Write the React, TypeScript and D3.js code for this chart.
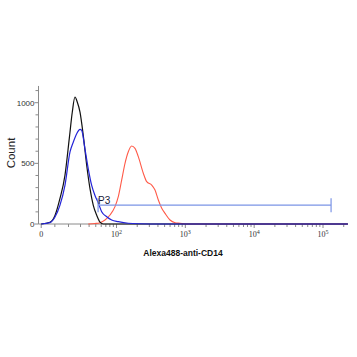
import React from "react";
import * as d3 from "d3";

// Fluorescence values (Alexa488) and counts
const blackValues = [0, 6.4, 10.1, 13.7, 17.4, 20.6, 22.8, 24.9, 26.9, 29.5, 32.9, 36.9, 41.2, 46.0, 51.6, 57.6, 64.3, 230000];
const blackCounts = [0, 14, 71, 209, 401, 708, 923, 1047, 1006, 923, 731, 484, 291, 154, 72, 16, 0, 0];

const blueValues = [0, 6.4, 10.1, 13.7, 17.4, 21.1, 23.6, 26.4, 29.5, 31.2, 34.8, 38.9, 43.6, 48.7, 54.4, 60.9, 72.1, 85.1, 106.2, 148.4, 220, 429, 230000];
const blueCounts = [0, 11, 58, 154, 319, 594, 676, 744, 780, 771, 620, 455, 318, 235, 173, 101, 60, 33, 19, 6, 2, 0, 0];

const redValues = [38.9, 48.7, 57.6, 68.1, 80.4, 95.1, 106.2, 119.0, 132.9, 148.4, 166.3, 185.7, 207.5, 245.2, 274.8, 324.8, 362.7, 405.2, 454, 507, 599, 709, 838, 1000, 230000];
const redCounts = [0, 4, 11, 33, 74, 143, 225, 363, 500, 596, 643, 624, 555, 418, 349, 321, 280, 198, 130, 88, 33, 11, 6, 0, 0];

const gateName = "P3";
const gateRange = [54, 131000];
const gateLevel = 155;

const xMajorTicks = [0, 100, 1000, 10000, 100000];
const xMajorLabels = ["0", "10|2", "10|3", "10|4", "10|5"];
const xMinorTicks = [10, 20, 30, 40, 50, 60, 70, 80, 90,
  200, 300, 400, 500, 600, 700, 800, 900,
  2000, 3000, 4000, 5000, 6000, 7000, 8000, 9000,
  20000, 30000, 40000, 50000, 60000, 70000, 80000, 90000, 200000];
const yMajorTicks = [0, 500, 1000];
const yMinorTicks = [100, 200, 300, 400, 600, 700, 800, 900, 1100];

const xTitle = "Alexa488-anti-CD14";
const yTitle = "Count";

const X_MAX = 230000;
const Y_TOP = 1138;

// biexponential-like transform: linear near zero, log above threshold
const T = 21.9;
const tf = (v: number) =>
  v < T ? v / (T * Math.LN10) + Math.log10(T) - 1 / Math.LN10 : Math.log10(v);

const xLin = d3.scaleLinear().domain([2, 5]).range([116.5, 323]);
const xs = (v: number) => xLin(tf(v));
const yScale = d3.scaleLinear().domain([0, 1000]).range([224, 102.7]);

const line = d3
  .line<[number, number]>()
  .x((d) => xs(d[0]))
  .y((d) => yScale(d[1]))
  .curve(d3.curveMonotoneX);

const zip = (a: number[], b: number[]) => a.map((v, i) => [v, b[i]] as [number, number]);

export default function App() {
  const axisColor = "#8a8a8a";
  const x0 = 38.5;
  const yBase = yScale(0);
  const xEnd = xs(X_MAX);
  return (
    <svg width={357} height={357} style={{ position: "absolute", left: 0, top: 0, background: "#fff" }}>
      {/* axes */}
      <line x1={x0} x2={x0} y1={yScale(Y_TOP)} y2={yBase} stroke={axisColor} strokeWidth={1} />
      <line x1={x0} x2={xEnd} y1={yBase} y2={yBase} stroke={axisColor} strokeWidth={1} />
      {yMinorTicks.map((t) => (
        <line key={"ym" + t} x1={x0 - 3} x2={x0} y1={yScale(t)} y2={yScale(t)} stroke={axisColor} />
      ))}
      {yMajorTicks.map((t) => (
        <g key={"yM" + t}>
          <line x1={x0 - 4} x2={x0} y1={yScale(t)} y2={yScale(t)} stroke={axisColor} />
          <text x={x0 - 4} y={yScale(t) + 3} textAnchor="end" fontSize={8} fontFamily="Liberation Sans, Arial, sans-serif" fill="#333">
            {t}
          </text>
        </g>
      ))}
      {xMinorTicks.map((t) => (
        <line key={"xm" + t} x1={xs(t)} x2={xs(t)} y1={yBase} y2={yBase + 3} stroke={axisColor} />
      ))}
      {xMajorTicks.map((t, i) => {
        const [base, exp] = xMajorLabels[i].split("|");
        return (
          <g key={"xM" + t}>
            <line x1={xs(t)} x2={xs(t)} y1={yBase} y2={yBase + 4} stroke={axisColor} />
            <text x={xs(t)} y={237} textAnchor="middle" fontSize={8} fontFamily="Liberation Serif, Times New Roman, serif" fill="#333">
              {base}
              {exp && (
                <tspan fontSize={6} dy={-3.5}>
                  {exp}
                </tspan>
              )}
            </text>
          </g>
        );
      })}
      <text x={183} y={256} textAnchor="middle" fontSize={8.5} fontWeight="bold" fontFamily="Liberation Sans, Arial, sans-serif" fill="#111">
        {xTitle}
      </text>
      <text transform={`translate(15,153) rotate(-90)`} textAnchor="middle" fontSize={11.5} fontFamily="Liberation Sans, Arial, sans-serif" fill="#222">
        {yTitle}
      </text>

      {/* histograms */}
      <path d={line(zip(redValues, redCounts)) || ""} fill="none" stroke="#ff5a48" strokeWidth={1.1} />
      <path d={line(zip(blackValues, blackCounts)) || ""} fill="none" stroke="#111" strokeWidth={1.2} />
      <path d={line(zip(blueValues, blueCounts)) || ""} fill="none" stroke="#2424d8" strokeWidth={1.2} />

      {/* gate */}
      <g stroke="#7b94e6" strokeWidth={1.2}>
        <line x1={xs(gateRange[0])} x2={xs(gateRange[1])} y1={yScale(gateLevel)} y2={yScale(gateLevel)} />
        <line x1={xs(gateRange[0])} x2={xs(gateRange[0])} y1={yScale(gateLevel) - 7} y2={yScale(gateLevel) + 7} />
        <line x1={xs(gateRange[1])} x2={xs(gateRange[1])} y1={yScale(gateLevel) - 7} y2={yScale(gateLevel) + 7} />
      </g>
      <text x={xs(gateRange[0])} y={yScale(gateLevel) - 1.5} fontSize={10} fontFamily="Liberation Sans, Arial, sans-serif" fill="#1a1a3a">
        {gateName}
      </text>
    </svg>
  );
}
